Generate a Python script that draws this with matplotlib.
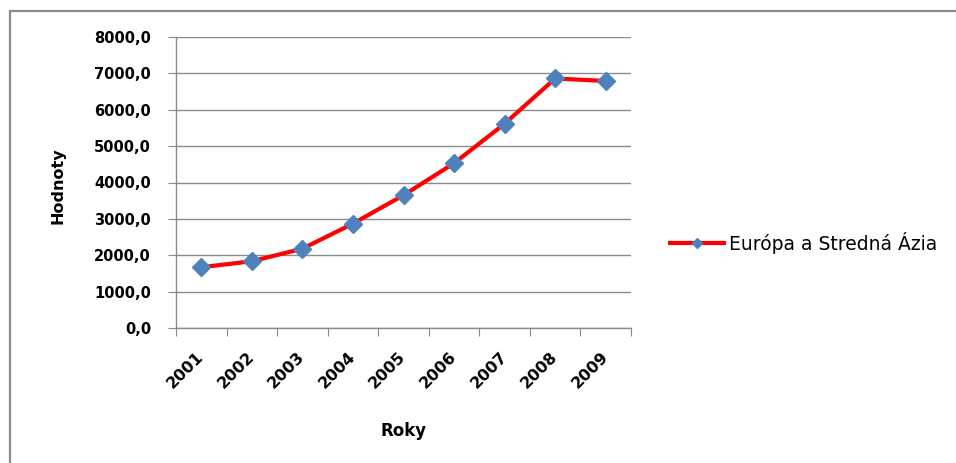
import matplotlib
matplotlib.use("Agg")
import matplotlib.pyplot as plt
from matplotlib.patches import Rectangle
from matplotlib.ticker import FuncFormatter, MultipleLocator
from matplotlib.transforms import ScaledTranslation
import numpy as np

years = ["2001", "2002", "2003", "2004", "2005", "2006", "2007", "2008", "2009"]
values = [1670, 1835, 2180, 2870, 3650, 4530, 5615, 6860, 6790]
series_name = "Európa a Stredná Ázia"

plt.rcParams['font.family'] = ['DejaVu Sans']

W, H = 956, 463
fig = plt.figure(figsize=(W / 100, H / 100), dpi=100)
ax = fig.add_axes([176 / W, 1 - 328 / H, (631 - 176) / W, (328 - 37) / H])

# outer frame
fig.patches.append(Rectangle((10 / W, -0.1), 1.2, 1 - 11 / H + 0.1, transform=fig.transFigure,
                             fill=False, edgecolor='#8c8c8c', linewidth=1.6, zorder=0))

x = np.arange(len(years))
line, = ax.plot(x, values, color='#ff0000', linewidth=3.0, marker='D', markersize=9,
                markerfacecolor='#4f81bd', markeredgecolor='#4f81bd', zorder=3,
                label=series_name)

ax.set_xlim(-0.5, len(years) - 0.5)
ax.set_ylim(0, 8000)
ax.yaxis.set_major_locator(MultipleLocator(1000))
ax.yaxis.set_major_formatter(FuncFormatter(lambda v, p: f"{v:.1f}".replace('.', ',')))
ax.grid(axis='y', color='#8a8a8a', linewidth=1.0)
ax.set_axisbelow(True)

ax.set_xticks(np.arange(-0.5, len(years), 1.0))
ax.set_xticklabels([])
ax.set_xticks(x, minor=True)
ax.set_xticklabels(years, minor=True, rotation=45, ha='right', va='center',
                   rotation_mode='anchor', fontsize=11.5, fontweight='bold')
shift = ScaledTranslation(6 / 100, 0, fig.dpi_scale_trans)
for lab in ax.get_xticklabels(minor=True):
    lab.set_transform(lab.get_transform() + shift)
ax.tick_params(axis='x', which='minor', length=0, pad=19)
ax.tick_params(axis='x', which='major', length=6, color='#8a8a8a', direction='out')
ax.tick_params(axis='y', length=6, color='#8a8a8a', labelsize=10.5, pad=12)
for lab in ax.get_yticklabels():
    lab.set_fontweight('bold')

for s in ['top', 'right']:
    ax.spines[s].set_visible(False)
for s in ['left', 'bottom']:
    ax.spines[s].set_color('#8a8a8a')
    ax.spines[s].set_linewidth(1.0)

fig.text(58 / W, 1 - 186 / H, "Hodnoty", rotation=90, ha='center', va='center',
         fontsize=11.5, fontweight='bold')
fig.text(404 / W, 1 - 431 / H, "Roky", ha='center', va='center',
         fontsize=12, fontweight='bold')

leg = fig.legend(handles=[line], loc='center left', bbox_to_anchor=(670 / W, 1 - 243 / H),
                 frameon=False, fontsize=13.5, handlelength=2.9, handletextpad=0.25,
                 borderpad=0, borderaxespad=0)
for h in leg.legend_handles:
    h.set_markersize(5)

fig.savefig("out.png", dpi=100)
